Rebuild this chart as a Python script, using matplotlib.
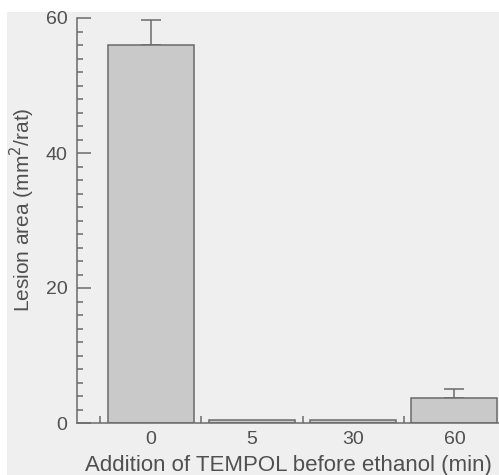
import numpy as np
import matplotlib
matplotlib.use("Agg")
import matplotlib.pyplot as plt
from matplotlib.patches import Rectangle

# data
groups = ["0", "5", "30", "60"]
lesion_area = [56.0, 0.45, 0.45, 3.7]
sem_up = [3.7, 0.0, 0.0, 1.3]

plt.rcParams['font.family'] = ['Liberation Sans', 'DejaVu Sans']
txt = '#505050'
edge = '#6a6a6a'

fig = plt.figure(figsize=(4.99, 4.75), dpi=100, facecolor='white')
# scanned paper background
fig.patches.append(Rectangle((7/499, 0), 1, 1 - 12/475, transform=fig.transFigure,
                             facecolor='#efefef', edgecolor='none', zorder=-10))
ax = fig.add_axes([77/499, 1 - 423/475, 1 - 77/499, (423 - 18)/475])
ax.set_facecolor('none')

x = np.arange(len(groups))
ax.bar(x, lesion_area, width=0.85, color='#c9c9c9', edgecolor=edge, linewidth=1.1, zorder=2)
err = np.array(sem_up)
show = err > 0
ax.errorbar(x[show], np.array(lesion_area)[show], yerr=[np.zeros(show.sum()), err[show]],
            fmt='none', ecolor=edge, elinewidth=1.1, capsize=7, capthick=1.1, zorder=1)

ax.set_xlim(-0.728, 3.44)
ax.set_ylim(0, 60)

for s in ['top', 'right']:
    ax.spines[s].set_visible(False)
for s in ['left', 'bottom']:
    ax.spines[s].set_color(edge)
    ax.spines[s].set_linewidth(1.1)

ax.set_yticks([0, 20, 40, 60])
ax.set_yticks(np.arange(0, 61, 2), minor=True)
ax.tick_params(axis='y', which='major', direction='in', length=10, width=1.1,
               color=edge, labelsize=14, labelcolor=txt, pad=7)
ax.tick_params(axis='y', which='minor', direction='in', length=4.5, width=1.1, color=edge)

# group separators as major ticks, labels on minor ticks at the centres
ax.set_xticks(np.arange(-0.5, 3.0, 1.0))
ax.set_xticklabels([])
ax.set_xticks(x, minor=True)
ax.set_xticklabels(groups, minor=True)
ax.tick_params(axis='x', which='major', direction='in', length=5, width=1.1, color=edge)
ax.tick_params(axis='x', which='minor', length=0, labelsize=14, labelcolor=txt, pad=6)

ax.set_ylabel("Lesion area (mm$^2$/rat)", fontsize=15, color=txt)
ax.yaxis.set_label_coords(-40/422, (423 - 210)/405)
ax.set_xlabel("Addition of TEMPOL before ethanol (min)", fontsize=16, color=txt, labelpad=5)

fig.savefig("out.png", dpi=100, facecolor=fig.get_facecolor())
